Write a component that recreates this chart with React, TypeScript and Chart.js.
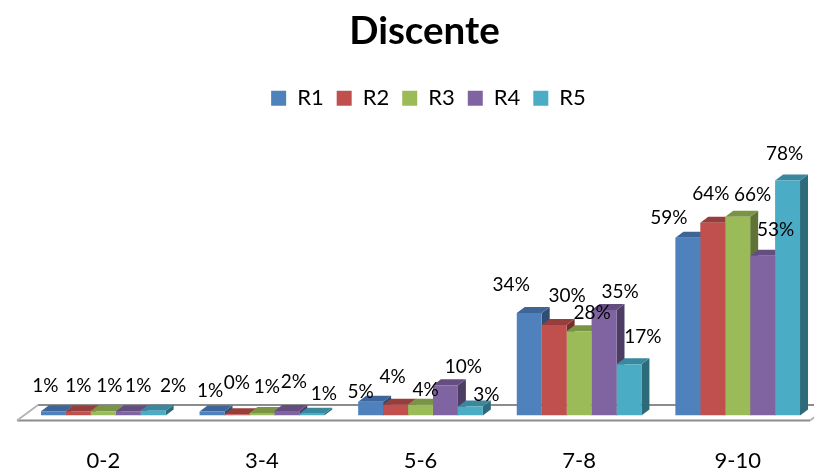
import React, { useEffect, useRef } from "react";
import { Chart, registerables } from "chart.js";

Chart.register(...registerables);

const categories = ["0-2", "3-4", "5-6", "7-8", "9-10"];
const r1 = [1.4, 1.3, 4.6, 34, 59];
const r2 = [1.4, 0.4, 3.6, 30, 64];
const r3 = [1.4, 0.8, 3.6, 28, 66];
const r4 = [1.4, 1.5, 10, 35, 53];
const r5 = [1.6, 0.6, 3, 17, 78];
const seriesNames = ["R1", "R2", "R3", "R4", "R5"];
const seriesValues = [r1, r2, r3, r4, r5];

const frontColors = ["#4f81bd", "#c0504d", "#9bbb59", "#8064a2", "#4bacc6"];
const topColors = ["#3d6597", "#963e3b", "#7a9446", "#644e80", "#3a889d"];
const sideColors = ["#2f4e74", "#742f2d", "#5f7336", "#4d3c63", "#2d6a7a"];

// Label nudges from the top-centre of each bar, [series][category]
const labelDx = [
  [-8, -2, -10, -18, -19],
  [0, 0, -3, 13, -2],
  [6, 5, 5, 13, 15],
  [10, 7, 18, 16, 13],
  [20, 12, 16, 14, -3],
];
const labelDy = [
  [-25, -21, -10, -28, -20],
  [-25, -31, -28, -29, -29],
  [-25, -26, -15, -18, -22],
  [-25, -29, -18, -18, -26],
  [-25, -20, -12, -27, -27],
];

const FONT = "Lato, Carlito, sans-serif";
const DEPTH_X = 8;
const DEPTH_Y = 6;

const poly = (ctx: CanvasRenderingContext2D, pts: number[][], fill: string) => {
  ctx.beginPath();
  pts.forEach((p, i) => (i ? ctx.lineTo(p[0], p[1]) : ctx.moveTo(p[0], p[1])));
  ctx.closePath();
  ctx.fillStyle = fill;
  ctx.fill();
};

const shiftBox = (chart: any, box: any, dx: number, dy: number) => {
  const draw = box.draw;
  box.draw = function (...args: any[]) {
    chart.ctx.save();
    chart.ctx.translate(dx, dy);
    draw.apply(this, args);
    chart.ctx.restore();
  };
};

const bar3d = {
  id: "bar3d",
  afterInit(chart: any) {
    shiftBox(chart, chart.legend, 8, 2);
    chart.boxes.filter((b: any) => b !== chart.legend && b.options?.text).forEach((b: any) => shiftBox(chart, b, 4, 0));
  },
  beforeDatasetsDraw(chart: any) {
    const { ctx, chartArea } = chart;
    const base = chartArea.bottom;
    ctx.save();
    // floor
    ctx.strokeStyle = "#8c8c8c";
    ctx.lineWidth = 2;
    ctx.beginPath();
    ctx.moveTo(38, base - 10.5);
    ctx.lineTo(chart.width, base - 10.5);
    ctx.moveTo(17, base + 5);
    ctx.lineTo(810, base + 5);
    ctx.stroke();
    ctx.strokeStyle = "#b4b4b4";
    ctx.beginPath();
    ctx.moveTo(17, base + 5);
    ctx.lineTo(38, base - 10.5);
    ctx.moveTo(810, base + 5);
    ctx.lineTo(831, base - 10.5);
    ctx.stroke();
    seriesValues.forEach((_, ds) => {
      chart.getDatasetMeta(ds).data.forEach((el: any) => {
        const half = el.width / 2;
        const x0 = el.x - half;
        const x1 = el.x + half;
        const y = el.y;
        poly(ctx, [[x1, y], [x1 + DEPTH_X, y - DEPTH_Y], [x1 + DEPTH_X, base - DEPTH_Y], [x1, base]], sideColors[ds]);
        poly(ctx, [[x0, y], [x1, y], [x1 + DEPTH_X, y - DEPTH_Y], [x0 + DEPTH_X, y - DEPTH_Y]], topColors[ds]);
      });
    });
    ctx.restore();
  },
  afterDatasetsDraw(chart: any) {
    const { ctx } = chart;
    ctx.save();
    ctx.font = `19px ${FONT}`;
    ctx.fillStyle = "#000";
    ctx.textAlign = "center";
    ctx.textBaseline = "middle";
    seriesValues.forEach((vals, ds) => {
      chart.getDatasetMeta(ds).data.forEach((el: any, i: number) => {
        ctx.fillText(`${Math.round(vals[i])}%`, el.x + labelDx[ds][i], el.y + labelDy[ds][i]);
      });
    });
    ctx.restore();
  },
};

export default function App() {
  const ref = useRef<HTMLCanvasElement>(null);
  useEffect(() => {
    const chart = new Chart(ref.current as HTMLCanvasElement, {
      type: "bar",
      data: {
        labels: categories,
        datasets: seriesNames.map((name, i) => ({
          label: name,
          data: seriesValues[i],
          backgroundColor: frontColors[i],
          borderWidth: 0,
          barPercentage: 1,
          categoryPercentage: 0.786,
        })),
      },
      options: {
        responsive: false,
        animation: false,
        layout: { padding: { left: 24, right: 31, top: 8, bottom: 0 } },
        plugins: {
          tooltip: { enabled: false },
          title: {
            display: true,
            text: "Discente",
            color: "#000",
            font: { family: FONT, size: 38.5, weight: "bold" },
            padding: { top: 0, bottom: 18 },
          },
          legend: {
            display: true,
            position: "top",
            labels: {
              boxWidth: 15,
              boxHeight: 15,
              padding: 13,
              color: "#000",
              font: { family: FONT, size: 22 },
            },
          },
        },
        scales: {
          x: {
            grid: { display: false },
            border: { display: false },
            afterFit: (s: any) => {
              s.height = 56.5;
            },
            ticks: { color: "#000", font: { family: FONT, size: 22 }, padding: 24, maxRotation: 0 },
          },
          y: { display: false, min: 0, max: 99 },
        },
      },
      plugins: [bar3d],
    } as any);
    return () => chart.destroy();
  }, []);
  return (
    <div style={{ position: "fixed", left: 0, top: 0, width: 814, height: 472, overflow: "hidden", background: "#fff" }}>
      <canvas ref={ref} width={848} height={472} style={{ display: "block" }} />
    </div>
  );
}
